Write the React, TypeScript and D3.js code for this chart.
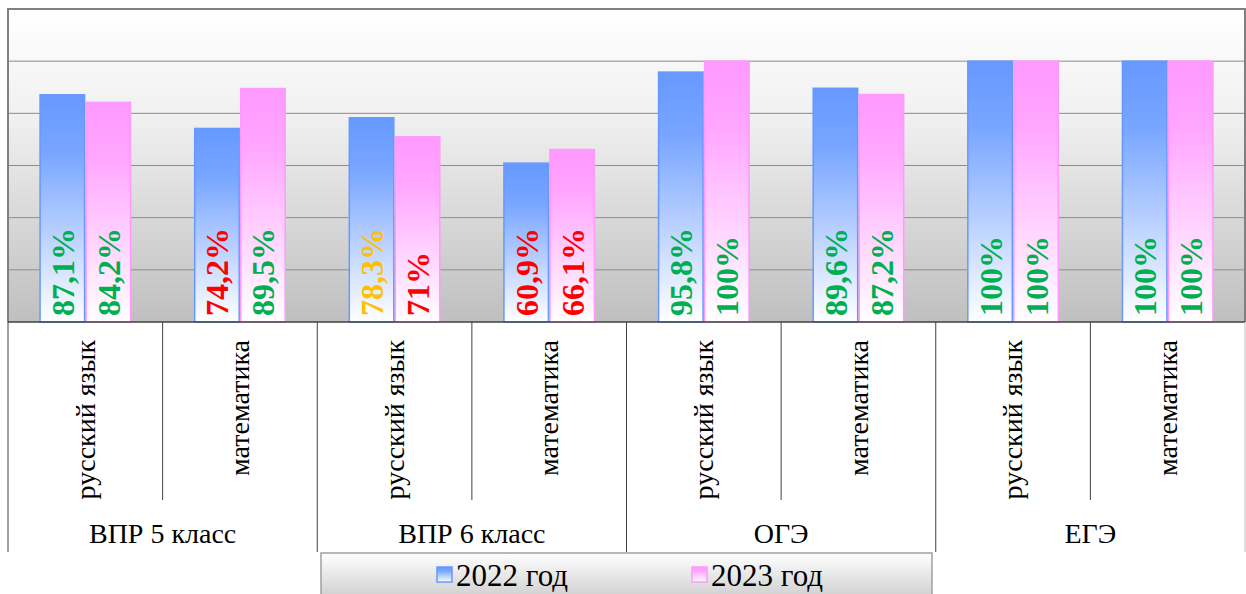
import React from "react";
import * as d3 from "d3";

const groups = ["ВПР 5 класс", "ВПР 6 класс", "ОГЭ", "ЕГЭ"];
const subjects = ["русский язык", "математика"];
const categories = [
  "ВПР 5 класс|русский язык",
  "ВПР 5 класс|математика",
  "ВПР 6 класс|русский язык",
  "ВПР 6 класс|математика",
  "ОГЭ|русский язык",
  "ОГЭ|математика",
  "ЕГЭ|русский язык",
  "ЕГЭ|математика",
];
const seriesNames = ["2022 год", "2023 год"];
const values2022 = [87.1, 74.2, 78.3, 60.9, 95.8, 89.6, 100, 100];
const values2023 = [84.2, 89.5, 71, 66.1, 100, 87.2, 100, 100];
const labels2022 = ["87,1%", "74,2%", "78,3%", "60,9%", "95,8%", "89,6%", "100%", "100%"];
const labels2023 = ["84,2%", "89,5%", "71%", "66,1%", "100%", "87,2%", "100%", "100%"];
const labelColors2022 = ["#00b050", "#ff0000", "#ffc000", "#ff0000", "#00b050", "#00b050", "#00b050", "#00b050"];
const labelColors2023 = ["#00b050", "#00b050", "#ff0000", "#ff0000", "#00b050", "#00b050", "#00b050", "#00b050"];
const yTicks = [0, 20, 40, 60, 80, 100, 120];

const W = 1246;
const H = 594;
const plotL = 8;
const plotR = 1245;
const plotT = 9;
const plotB = 322;

const font = "'Liberation Serif', 'Times New Roman', serif";

export default function App() {
  const x = d3.scaleBand<string>().domain(categories).range([plotL, plotR]).paddingInner(0).paddingOuter(0);
  const bw = x.bandwidth();
  const y = d3.scaleLinear().domain([0, 120]).range([plotB, plotT]);
  const xs = d3.scaleBand<string>().domain(seriesNames).range([0, 92]).padding(0);
  const offset = (bw - 92) / 2;

  const series = [
    { name: seriesNames[0], values: values2022, labels: labels2022, colors: labelColors2022, fill: "url(#gBlue)", stroke: "#6699ff" },
    { name: seriesNames[1], values: values2023, labels: labels2023, colors: labelColors2023, fill: "url(#gPink)", stroke: "#ff99ff" },
  ];

  return (
    <svg width={W} height={H} style={{ position: "absolute", left: 0, top: 0, background: "#ffffff" }} fontFamily={font}>
      <defs>
        <linearGradient id="gBg" x1="0" y1="0" x2="0" y2="1">
          <stop offset="0" stopColor="#ffffff" />
          <stop offset="0.35" stopColor="#f0f0f0" />
          <stop offset="1" stopColor="#bfbfbf" />
        </linearGradient>
        <linearGradient id="gBlue" x1="0" y1="0" x2="0" y2="1">
          <stop offset="0" stopColor="#6699ff" />
          <stop offset="0.25" stopColor="#78a5ff" />
          <stop offset="1" stopColor="#ffffff" />
        </linearGradient>
        <linearGradient id="gPink" x1="0" y1="0" x2="0" y2="1">
          <stop offset="0" stopColor="#ff99ff" />
          <stop offset="0.25" stopColor="#ffa6ff" />
          <stop offset="1" stopColor="#ffffff" />
        </linearGradient>
        <linearGradient id="gLegend" x1="0" y1="0" x2="0" y2="1">
          <stop offset="0" stopColor="#ffffff" />
          <stop offset="1" stopColor="#cfcfcf" />
        </linearGradient>
      </defs>

      <rect x={plotL} y={plotT} width={plotR - plotL} height={plotB - plotT} fill="url(#gBg)" />

      {yTicks.filter((t) => t > 0 && t < 120).map((t) => (
        <line key={t} x1={plotL} x2={plotR} y1={y(t)} y2={y(t)} stroke="#8c8c8c" strokeWidth={1} />
      ))}

      <path d={`M${plotL},${plotB} V${plotT} H${plotR} V${plotB}`} fill="none" stroke="#808080" strokeWidth={2} />

      {series.map((s) =>
        categories.map((c, i) => {
          const bx = (x(c) as number) + offset + (xs(s.name) as number);
          const by = y(s.values[i]);
          return (
            <rect key={s.name + c} x={bx + 0.75} y={by} width={xs.bandwidth() - 1.5} height={plotB - by}
              fill={s.fill} stroke={s.stroke} strokeWidth={1.5} />
          );
        })
      )}

      {series.map((s) =>
        categories.map((c, i) => {
          const cx = (x(c) as number) + offset + (xs(s.name) as number) + xs.bandwidth() / 2;
          return (
            <text key={"l" + s.name + c} transform={`translate(${cx},${plotB - 6}) rotate(-90)`} dy="0.36em"
              textAnchor="start" fontSize={32} fontWeight="bold" fontFamily={font} fill={s.colors[i]}>
              {s.labels[i]}
            </text>
          );
        })
      )}

      <line x1={plotL} x2={plotR} y1={plotB} y2={plotB} stroke="#404040" strokeWidth={1.5} />

      {categories.map((c, i) => {
        const xx = x(c) as number;
        const isGroup = i % 2 === 0;
        return (
          <line key={"s" + c} x1={xx} x2={xx} y1={plotB} y2={isGroup ? 552 : 500} stroke="#404040" strokeWidth={1} />
        );
      })}
      <line x1={plotR} x2={plotR} y1={plotB} y2={552} stroke="#c0c0c0" strokeWidth={1} />

      {categories.map((c, i) => {
        const cx = (x(c) as number) + bw / 2;
        return (
          <text key={"t" + c} transform={`translate(${cx},340) rotate(-90)`} dy="0.33em" textAnchor="end"
            fontSize={28} fontFamily={font} fill="#000">
            {subjects[i % 2]}
          </text>
        );
      })}

      {groups.map((g, gi) => {
        const x0 = x(categories[gi * 2]) as number;
        return (
          <text key={g} x={x0 + bw} y={543} textAnchor="middle" fontSize={28} fontFamily={font} fill="#000">
            {g}
          </text>
        );
      })}

      <rect x={321} y={553} width={611} height={45} fill="url(#gLegend)" stroke="#a0a0a0" strokeWidth={1.5} />
      {series.map((s, i) => {
        const lx = i === 0 ? 437 : 692;
        return (
          <g key={"lg" + s.name}>
            <rect x={lx} y={567} width={15} height={15} fill={s.fill} stroke={s.stroke} strokeWidth={1.5} />
            <text x={lx + 19} y={586} fontSize={31} fontFamily={font} fill="#000">{s.name}</text>
          </g>
        );
      })}
    </svg>
  );
}
